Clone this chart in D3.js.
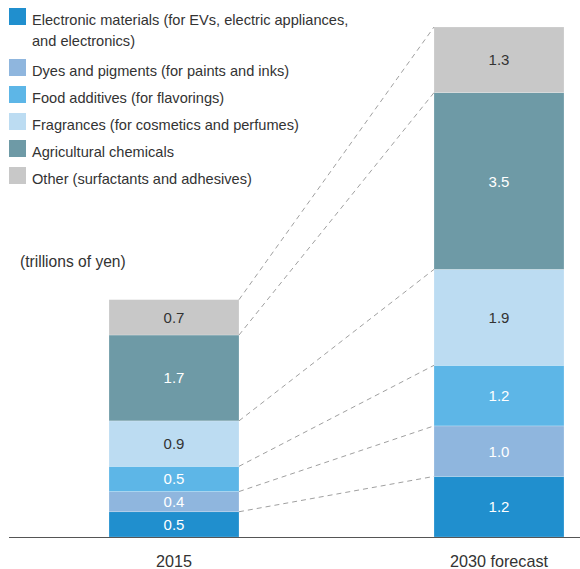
<!DOCTYPE html>
<html>
<head>
<meta charset="utf-8">
<script src="https://cdn.jsdelivr.net/npm/d3@7"></script>
<style>
  html, body { margin: 0; padding: 0; background: #fff; }
  svg { display: block; font-family: "Liberation Sans", Arial, sans-serif; }
</style>
</head>
<body>
<svg id="chart" width="580" height="569"></svg>
<script>
// Market size by application, trillions of yen
const years = ["2015", "2030 forecast"];
const segments = [
  "Electronic materials (for EVs, electric appliances,\nand electronics)",
  "Dyes and pigments (for paints and inks)",
  "Food additives (for flavorings)",
  "Fragrances (for cosmetics and perfumes)",
  "Agricultural chemicals",
  "Other (surfactants and adhesives)"
];
const values2015 = [0.5, 0.4, 0.5, 0.9, 1.7, 0.7];
const values2030 = [1.2, 1.0, 1.2, 1.9, 3.5, 1.3];
const colors = ["#208fce", "#8fb6de", "#5db6e7", "#bcdcf2", "#6e9aa6", "#c8c8c8"];
const labelColors = ["#fff", "#fff", "#fff", "#333", "#fff", "#333"];
const unitLabel = "(trillions of yen)";

const svg = d3.select("#chart");
const baseY = 537;

const rows = years.map((yr, i) => {
  const vals = i === 0 ? values2015 : values2030;
  const r = { year: yr };
  segments.forEach((s, j) => r[s] = vals[j]);
  return r;
});

const series = d3.stack().keys(segments)(rows);

const total2030 = d3.sum(values2030);
const y = d3.scaleLinear().domain([0, total2030]).range([baseY, 27]);
const x = d3.scaleBand().domain(years).range([109, 564]).paddingInner(0.6).paddingOuter(0);

// stacked bars with value labels
const g = svg.append("g");
series.forEach((ser, j) => {
  ser.forEach((d, i) => {
    const x0 = x(years[i]);
    g.append("rect")
      .attr("x", x0)
      .attr("y", y(d[1]))
      .attr("width", x.bandwidth())
      .attr("height", y(d[0]) - y(d[1]))
      .attr("fill", colors[j])
      .attr("stroke", "#fff")
      .attr("stroke-opacity", 0.35)
      .attr("stroke-width", 0.6);
    g.append("text")
      .attr("x", x0 + x.bandwidth() / 2)
      .attr("y", (y(d[0]) + y(d[1])) / 2 + 5.5)
      .attr("text-anchor", "middle")
      .attr("font-size", 15)
      .attr("fill", labelColors[j])
      .text(d3.format(".1f")(d.data[segments[j]]));
  });
});

// connectors from the top of each 2015 segment to the matching 2030 segment
series.forEach((ser) => {
  const a = ser[0], b = ser[1];
  g.append("line")
    .attr("x1", x(years[0]) + x.bandwidth())
    .attr("y1", y(a[1]))
    .attr("x2", x(years[1]))
    .attr("y2", y(b[1]))
    .attr("stroke", "#a0a0a0")
    .attr("stroke-width", 1)
    .attr("stroke-dasharray", "5,4");
});

// category axis along the baseline
const axis = d3.axisBottom(x).tickSize(0).tickPadding(18);
const ax = svg.append("g").attr("transform", `translate(0,${baseY})`).call(axis);
ax.select(".domain").remove();
ax.selectAll("text").attr("font-size", 16.2).attr("fill", "#333")
  .attr("font-family", "Liberation Sans, Arial, sans-serif");
svg.append("line").attr("x1", 9).attr("x2", 580).attr("y1", baseY + 0.5).attr("y2", baseY + 0.5)
  .attr("stroke", "#555").attr("stroke-width", 1);

// unit
svg.append("text").attr("x", 20).attr("y", 267).attr("font-size", 15.6).attr("fill", "#333").text(unitLabel);

// legend
const legendTops = [8, 59, 86, 113, 140, 167];
segments.forEach((s, j) => {
  const top = legendTops[j];
  svg.append("rect").attr("x", 9).attr("y", top).attr("width", 17).attr("height", 17).attr("fill", colors[j]);
  const t = svg.append("text").attr("x", 32).attr("y", top + 16.5).attr("font-size", 14.6).attr("fill", "#333");
  s.split("\n").forEach((line, k) => {
    t.append("tspan").attr("x", 32).attr("dy", k === 0 ? 0 : 21).text(line);
  });
});
</script>
</body>
</html>
